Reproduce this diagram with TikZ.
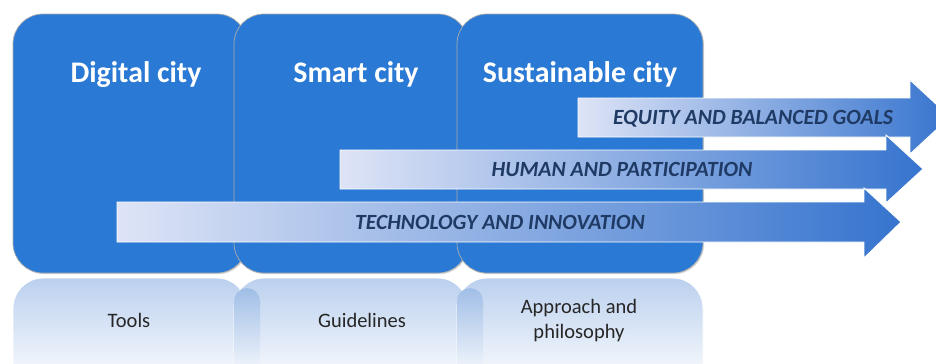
\documentclass[tikz,border=0pt]{standalone}
\usepackage{fontspec}
\setmainfont{Carlito}
\usetikzlibrary{shadows}

\definecolor{cityblue}{HTML}{2A79D4}
\definecolor{mirrorblue}{HTML}{98B8E6}
\definecolor{edgeblue}{HTML}{6C9AD9}
\definecolor{flowlight}{HTML}{DEE4F6}
\definecolor{flowmid}{HTML}{C2CFEF}
\definecolor{flowdark}{HTML}{3674CE}
\definecolor{flowtext}{HTML}{1F3A64}

\pgfdeclareverticalshading{mirrorfade}{100bp}{color(0bp)=(white); color(27bp)=(white); color(100bp)=(mirrorblue)}
\pgfdeclareverticalshading{edgefade}{100bp}{color(0bp)=(white); color(30bp)=(white); color(100bp)=(edgeblue)}

\tikzset{
  citybox/.style={fill=cityblue, draw=gray!65, line width=0.6pt, rounded corners=0.9cm,
    drop shadow={shadow xshift=1pt, shadow yshift=-1pt, opacity=0.3}},
  mirror/.style={shading=mirrorfade, draw=white, line width=0.8pt, rounded corners=0.9cm},
  mirroredge/.style={shading=edgefade, rounded corners=0.39cm},
  flow/.style={left color=flowlight, middle color=flowmid, right color=flowdark, draw=white, line width=0.8pt},
  citytitle/.style={text=white, font=\bfseries\fontsize{25.5}{30}\selectfont, anchor=base},
  flowlabel/.style={text=flowtext, font=\bfseries\itshape\fontsize{18.5}{22}\selectfont, anchor=base},
  rolelabel/.style={text=black!85, font=\fontsize{17.5}{21}\selectfont, anchor=base}
}

\begin{document}
\begin{tikzpicture}[x=0.03cm, y=-0.03cm]
  \clip (0,0) rectangle (936,363);
  \fill[white] (0,0) rectangle (936,363);

  % the three stages
  \path[citybox] (13,14) rectangle (247,273);
  \path[citybox] (234,14) rectangle (468,273);
  \path[citybox] (457,14) rectangle (703,273);

  % reflections
  \path[mirror] (13,278) rectangle (247,395);
  \path[mirror] (234,278) rectangle (468,395);
  \path[mirroredge] (234,288) rectangle (260,395);
  \path[mirror] (457,278) rectangle (703,395);
  \path[mirroredge] (457,288) rectangle (483,395);

  \node[citytitle] (digital) at (136,82) {Digital city};
  \node[citytitle] (smart) at (356,82) {Smart city};
  \node[citytitle] (sustain) at (580,82) {Sustainable city};

  \node[rolelabel] (tools) at (129,327) {Tools};
  \node[rolelabel] (guide) at (362,327) {Guidelines};
  \node[rolelabel] (approach) at (579,313) {Approach and};
  \node[rolelabel] (philo) at (579,338) {philosophy};

  % arrows
  \path[flow] (578,98) -- (910,98) -- (910,80) -- (950,117) -- (910,154) -- (910,137) -- (578,137) -- cycle;
  \path[flow] (340,150) -- (886,150) -- (886,135) -- (923,169) -- (886,203) -- (886,189) -- (340,189) -- cycle;
  \path[flow] (117,202) -- (864,202) -- (864,188) -- (901,222) -- (864,258) -- (864,242) -- (117,242) -- cycle;

  \node[flowlabel] (equity) at (753,124) {EQUITY AND BALANCED GOALS};
  \node[flowlabel] (human) at (622,176) {HUMAN AND PARTICIPATION};
  \node[flowlabel] (tech) at (500,229) {TECHNOLOGY AND INNOVATION};
\end{tikzpicture}
\end{document}
